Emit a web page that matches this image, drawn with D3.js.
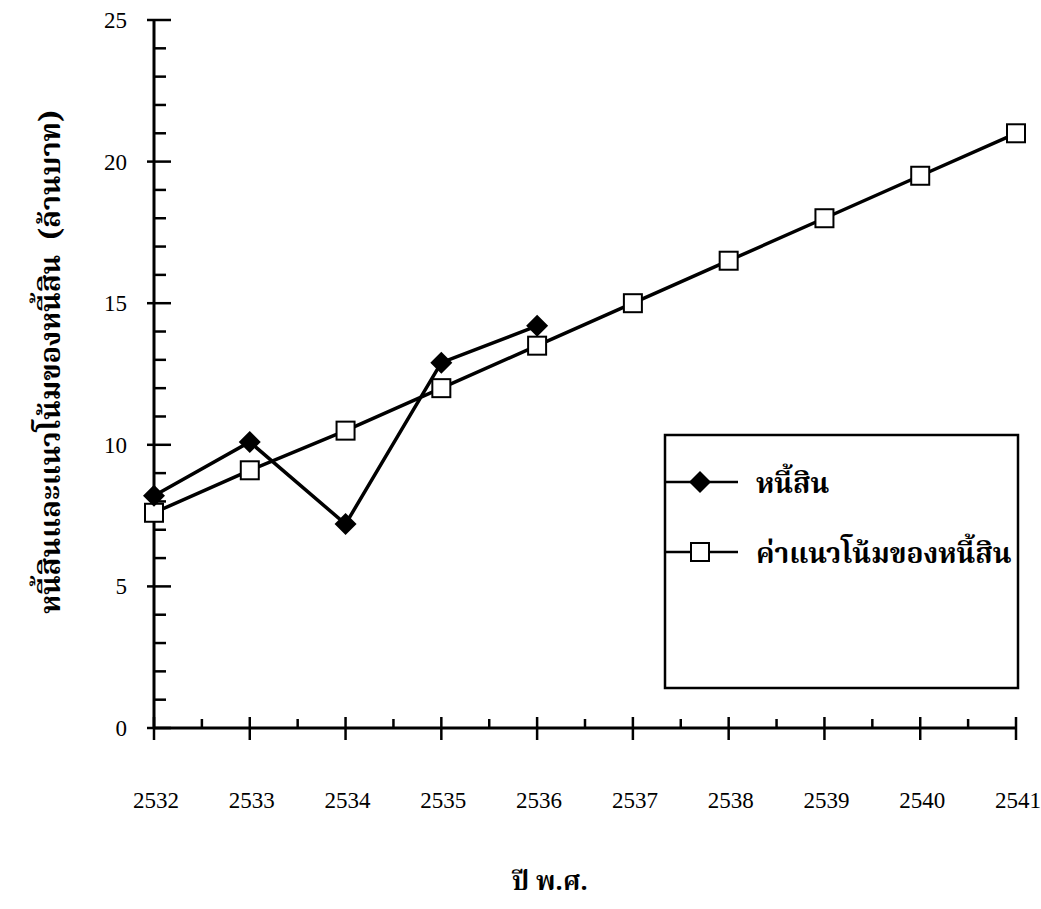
<!DOCTYPE html>
<html><head><meta charset="utf-8">
<script src="https://cdn.jsdelivr.net/npm/d3@7"></script>
<style>
body{margin:0;background:#fff;}
svg text{fill:#000;white-space:pre;}
</style></head>
<body>
<svg id="c" width="1041" height="909"></svg>
<script>
const years = ["2532","2533","2534","2535","2536","2537","2538","2539","2540","2541"];
const debtYears = ["2532","2533","2534","2535","2536"];
const debt = [8.2, 10.1, 7.2, 12.9, 14.2];
const trend = [7.6, 9.1, 10.5, 12.0, 13.5, 15.0, 16.5, 18.0, 19.5, 21.0];
const yTicks = [0, 5, 10, 15, 20, 25];
const seriesNames = ["หนี้สิน", "ค่าแนวโน้มของหนี้สิน"];
const yTitle = "หนี้สินและแนวโน้มของหนี้สิน  (ล้านบาท)";
const xTitle = "ปี พ.ศ.";

const svg = d3.select("#c");
const x = d3.scalePoint().domain(years).range([154, 1016]);
const y = d3.scaleLinear().domain([0, 25]).range([728, 20]);
const serif = "'Liberation Serif','Times New Roman',serif";
const thai = "'Noto Serif Thai','Noto Sans Thai','Loma','Garuda',serif";

// y axis
svg.append("line").attr("x1",154).attr("x2",154).attr("y1",y(25)).attr("y2",y(0))
  .attr("stroke","#000").attr("stroke-width",3);
d3.range(0,26).forEach(v=>{
  if (v%5!==0) svg.append("line").attr("x1",154).attr("x2",166).attr("y1",y(v)).attr("y2",y(v))
    .attr("stroke","#000").attr("stroke-width",2.5);
});
yTicks.forEach(v=>{
  svg.append("line").attr("x1",147).attr("x2",171).attr("y1",y(v)).attr("y2",y(v))
    .attr("stroke","#000").attr("stroke-width",2.5);
  svg.append("text").attr("x",127).attr("y",y(v)+8).attr("text-anchor","end")
    .attr("font-family",serif).attr("font-size",23).text(v);
});
// x axis
svg.append("line").attr("x1",154).attr("x2",1016).attr("y1",y(0)).attr("y2",y(0))
  .attr("stroke","#000").attr("stroke-width",3);
years.forEach((yr,i)=>{
  const px = x(yr);
  svg.append("line").attr("x1",px).attr("x2",px).attr("y1",y(0)-11).attr("y2",y(0)+12)
    .attr("stroke","#000").attr("stroke-width",2.5);
  svg.append("text").attr("x",px+2).attr("y",808).attr("text-anchor","middle")
    .attr("font-family",serif).attr("font-size",23).text(yr);
  if (i < years.length-1) {
    const mx = (px + x(years[i+1]))/2;
    svg.append("line").attr("x1",mx).attr("x2",mx).attr("y1",y(0)-9).attr("y2",y(0))
      .attr("stroke","#000").attr("stroke-width",2.5);
  }
});

// titles
svg.append("text").attr("transform","translate(60,362) rotate(-90)").attr("text-anchor","middle")
  .attr("font-family",thai).attr("font-size",29).attr("font-weight","bold").text(yTitle);
svg.append("text").attr("x",550).attr("y",890).attr("text-anchor","middle")
  .attr("font-family",thai).attr("font-size",26).attr("font-weight","bold").text(xTitle);

const line = d3.line();
svg.append("path").attr("d", line(trend.map((v,i)=>[x(years[i]), y(v)])))
  .attr("fill","none").attr("stroke","#000").attr("stroke-width",3.5);
svg.append("path").attr("d", line(debt.map((v,i)=>[x(debtYears[i]), y(v)])))
  .attr("fill","none").attr("stroke","#000").attr("stroke-width",3.5);

const sq = 18;
function square(g, cx, cy){
  g.append("rect").attr("x",cx-sq/2).attr("y",cy-sq/2).attr("width",sq).attr("height",sq)
    .attr("fill","#fff").attr("stroke","#000").attr("stroke-width",2);
}
function diamond(g, cx, cy){
  const r = 11;
  g.append("path").attr("d",`M${cx},${cy-r}L${cx+r},${cy}L${cx},${cy+r}L${cx-r},${cy}Z`)
    .attr("fill","#000");
}
trend.forEach((v,i)=>square(svg, x(years[i]), y(v)));
debt.forEach((v,i)=>diamond(svg, x(debtYears[i]), y(v)));

// legend
svg.append("rect").attr("x",665).attr("y",435).attr("width",353).attr("height",253)
  .attr("fill","#fff").attr("stroke","#000").attr("stroke-width",2.5);
const leg = [[482, diamond],[552, square]];
leg.forEach(([ly, fn], i)=>{
  svg.append("line").attr("x1",666).attr("x2",738).attr("y1",ly).attr("y2",ly)
    .attr("stroke","#000").attr("stroke-width",2.5);
  fn(svg, 700, ly);
  svg.append("text").attr("x",756).attr("y",ly+11).attr("font-family",thai)
    .attr("font-size",28).attr("font-weight","bold").text(seriesNames[i]);
});
</script>
</body></html>
